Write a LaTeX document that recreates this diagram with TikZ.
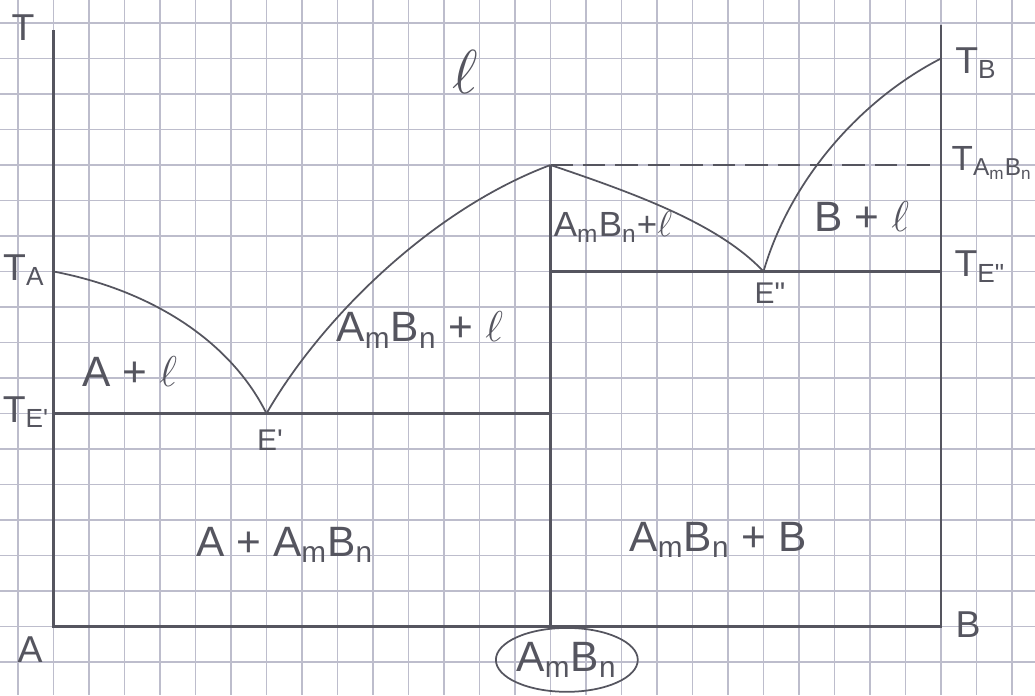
\documentclass[tikz,border=0pt]{standalone}
\usepackage{fontspec}
\setmainfont{Liberation Sans}
\usetikzlibrary{shapes.geometric}
\definecolor{pencil}{HTML}{55555F}
\definecolor{quad}{HTML}{BDBDCC}
\newcommand{\AmBn}{A\textsubscript{m}B\textsubscript{n}}
\tikzset{axis/.style={draw=pencil,line width=1.1pt},curve/.style={draw=pencil,line width=0.7pt},tie/.style={draw=pencil,line width=1pt},phase/.style={text=pencil,font=\fontsize{17}{20}\selectfont,inner sep=0pt},tlab/.style={text=pencil,font=\fontsize{15}{18}\selectfont,inner sep=0pt},elab/.style={text=pencil,font=\fontsize{12}{14}\selectfont,inner sep=0pt}}

\begin{document}
\begin{tikzpicture}[x=0.5cm,y=-0.5cm]
\useasboundingbox (-0.507,-0.648) rectangle (28.648,18.930);
\fill[white] (-0.507,-0.648) rectangle (28.648,18.930);
% squared paper
\foreach \i in {0,...,28} \draw[quad,line width=0.55pt] (\i,-0.648) -- (\i,18.930);
\foreach \j in {0,...,18} \draw[quad,line width=0.55pt] (-0.507,\j) -- (28.648,\j);
% frame points
\coordinate (ltop) at (1,0.2);\coordinate (orig) at (1,17);\coordinate (bend) at (26,17);\coordinate (rtop) at (26,0.06);
\coordinate (TA) at (1,7);\coordinate (Ep) at (7,11);\coordinate (peak) at (15,4);\coordinate (Epp) at (21,7);\coordinate (TB) at (26,1);
\coordinate (lEp) at (1,11);\coordinate (mEp) at (15,11);\coordinate (mEpp) at (15,7);\coordinate (rEpp) at (26,7);\coordinate (rpeak) at (26,4);\coordinate (comp) at (15,17);
\draw[axis] (ltop) -- (orig) -- (bend) -- (rtop);
\draw[tie] (lEp) -- (mEp);\draw[tie] (mEpp) -- (rEpp);\draw[tie] (peak) -- (comp);
\draw[curve,dash pattern=on 9pt off 4pt] (peak) -- (rpeak);
% liquidus
\draw[curve] (TA) .. controls (3.72,7.52) and (5.97,8.93) .. (Ep);
\draw[curve] (Ep) .. controls (8.51,8.37) and (11.61,5.27) .. (peak);
\draw[curve] (peak) .. controls (17.52,4.85) and (19.77,5.69) .. (Epp);
\draw[curve] (Epp) .. controls (21.75,4.42) and (23.72,2.17) .. (TB);
% labels
\node[tlab] (lT) at (0.14,0.14) {T};
\node[tlab] (lTA) at (0.17,6.96) {T\textsubscript{A}};
\node[tlab,anchor=east] (lTEp) at (0.9,10.96) {T\textsubscript{E\textquotesingle}};
\node[tlab] (lA) at (0.34,17.66) {A};
\node[tlab] (lB) at (26.76,16.96) {B};
\node[tlab] (lTB) at (26.99,1.13) {T\textsubscript{B}};
\node[tlab,font=\fontsize{14}{16}\selectfont] (lTAB) at (27.45,3.94) {T\textsubscript{\AmBn}};
\node[tlab] (lTEpp) at (27.10,6.87) {T\textsubscript{E\textquotedbl}};
\node[elab] (lEp) at (7.10,11.75) {E\textquotesingle};
\node[elab] (lEpp) at (21.18,7.61) {E\textquotedbl};
\node[phase,font=\fontsize{24}{26}\selectfont] (liq) at (12.59,1.38) {$\ell$};
\node[phase] (Al) at (3.15,9.83) {A + $\ell$};
\node[phase] (ABl) at (11.32,8.65) {\AmBn{} + $\ell$};
\node[phase,font=\fontsize{14}{16}\selectfont] (ABlr) at (16.76,5.75) {\AmBn{}+$\ell$};
\node[phase] (Bl) at (23.77,5.46) {B + $\ell$};
\node[phase] (AAB) at (7.52,14.70) {A + \AmBn};
\node[phase] (ABB) at (19.72,14.56) {\AmBn{} + B};
\node[phase,draw=pencil,ellipse,line width=0.7pt,minimum width=1.69cm,minimum height=0.9cm] (cAB) at (15.46,17.94) {\AmBn};
\end{tikzpicture}
\end{document}
